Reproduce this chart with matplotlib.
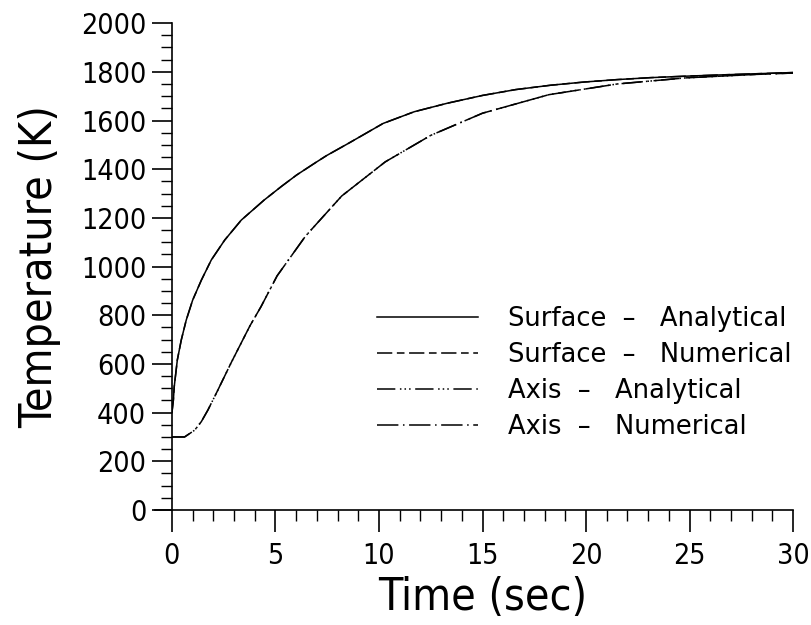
import matplotlib.pyplot as plt
from matplotlib import font_manager as fm
from matplotlib.ticker import MultipleLocator

# values
surf_time = [0, 0.07, 0.11, 0.26, 0.45, 0.69, 1.0, 1.42, 1.9, 2.55, 3.35, 4.45, 5.3,
             6.02, 6.9, 7.47, 8.5, 10.2, 11.7, 13.3, 15.0, 16.6, 18.3, 19.9, 21.5,
             23.1, 24.8, 26.4, 28.2, 30]
surf_temp = [400, 452, 506, 616, 698, 780, 862, 944, 1027, 1109, 1191, 1273, 1330,
             1376, 1425, 1456, 1505, 1588, 1636, 1671, 1703, 1727, 1745, 1758, 1768,
             1776, 1782, 1787, 1792, 1797]

axis_time = [0, 0.61, 1.1, 1.42, 1.74, 2.22, 2.86, 3.5, 3.77, 4.3, 5.08, 6.45, 8.2,
             10.3, 12.5, 15.0, 18.2, 21.5, 24.8, 28.1, 30]
axis_temp = [300, 300, 328, 363, 411, 493, 605, 712, 757, 835, 962, 1125, 1290,
             1430, 1539, 1630, 1706, 1750, 1775, 1789, 1795]

labels = ['Surface  –   Analytical', 'Surface  –   Numerical',
          'Axis  –   Analytical', 'Axis  –   Numerical']

# narrow face for digits and axis titles, if installed
cond = [f for f in fm.fontManager.ttflist
        if f.name == 'DejaVu Sans' and f.stretch == 'condensed' and f.weight == 400
        and f.style == 'normal']
if cond:
    narrow = fm.FontProperties(fname=cond[0].fname)
else:
    narrow = fm.FontProperties(family='Roboto', weight='light')

fig = plt.figure(figsize=(8.11, 6.25), dpi=100)
ax = fig.add_axes([0.212, 0.184, 0.766, 0.779])

lw = 1.1
ax.plot(surf_time, surf_temp, color='black', lw=lw, ls='-', label=labels[0])
ax.plot(surf_time, surf_temp, color='black', lw=lw, ls=(0, (10, 3, 5, 3)), label=labels[1])
ax.plot(axis_time, axis_temp, color='black', lw=lw, ls=(0, (12, 3, 1, 2, 1, 2, 1, 3)), label=labels[2])
ax.plot(axis_time, axis_temp, color='black', lw=lw, ls=(0, (14, 3, 1, 3)), label=labels[3])

ax.set_xlim(0, 30)
ax.set_ylim(0, 2000)
ax.xaxis.set_major_locator(MultipleLocator(5))
ax.xaxis.set_minor_locator(MultipleLocator(1))
ax.yaxis.set_major_locator(MultipleLocator(200))
ax.yaxis.set_minor_locator(MultipleLocator(50))

for s in ['top', 'right']:
    ax.spines[s].set_visible(False)
ax.spines['bottom'].set_bounds(-0.8, 30)
for s in ['left', 'bottom']:
    ax.spines[s].set_linewidth(1.2)

ax.tick_params(axis='x', which='major', length=16, width=1.2, pad=7)
ax.tick_params(axis='x', which='minor', length=8, width=1.0)
ax.tick_params(axis='y', which='major', length=14.5, width=1.2, pad=4)
ax.tick_params(axis='y', which='minor', length=8, width=1.0)
tick_font = narrow.copy()
tick_font.set_size(20.5)
for lab in ax.get_xticklabels() + ax.get_yticklabels():
    lab.set_fontproperties(tick_font)

title_font = narrow.copy()
title_font.set_size(32)
ax.set_xlabel('Time (sec)', fontproperties=title_font, labelpad=4)
ax.set_ylabel('Temperature (K)', fontproperties=title_font, labelpad=14)

ax.legend(loc='upper left', bbox_to_anchor=(0.330, 0.418), frameon=False, fontsize=18.5,
          handlelength=3.93, handletextpad=1.17, labelspacing=0.38,
          borderaxespad=0, borderpad=0)

fig.savefig('out.png', dpi=100)
